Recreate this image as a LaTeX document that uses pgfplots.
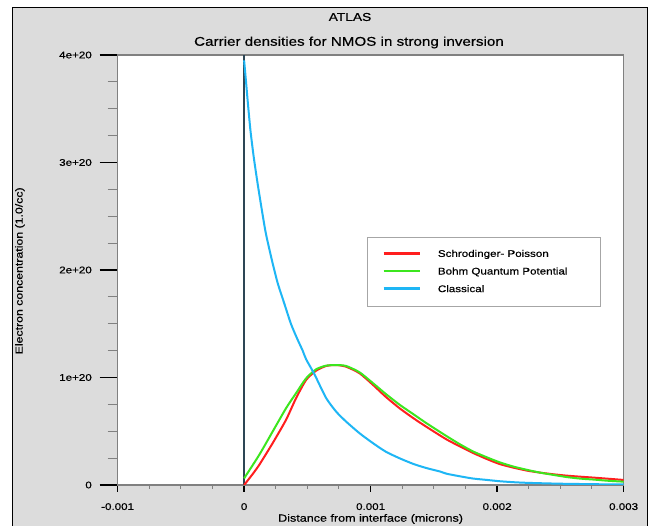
\documentclass[border=0pt]{standalone}
\usepackage{fontspec}
\setmainfont{Liberation Sans}[FakeStretch=1.2, FakeBold=0.5]
\usepackage{pgfplots}
\pgfplotsset{compat=1.18}
\definecolor{panel}{RGB}{220,220,220}
\definecolor{axgray}{RGB}{128,128,128}
\definecolor{cred}{RGB}{255,30,30}
\definecolor{cgreen}{RGB}{60,230,30}
\definecolor{cblue}{RGB}{30,182,245}
\definecolor{vline}{RGB}{45,70,85}
\newcommand\fs[1]{\fontsize{#1}{#1}\selectfont}
\begin{document}
\begin{tikzpicture}[x=1bp,y=1bp]
\useasboundingbox (0,0) rectangle (659,526);
\fill[white] (0,0) rectangle (659,526);
\fill[panel] (12,0) rectangle (647,518);
\draw[black, line width=1bp] (12,0) -- (12,518) -- (647,518) -- (647,0);
\node[font=\fs{11.5}] at (350,509) {ATLAS};
\node[font=\fs{12.7}] at (349,483.5) {Carrier densities for NMOS in strong inversion};

% y ticks axis
\begin{axis}[
  at={(117.6bp,41bp)}, anchor=south west, scale only axis,
  width=506bp, height=430bp,
  xmin=-0.001, xmax=0.003, ymin=0, ymax=4,
  scaled x ticks=false, scaled y ticks=false,
  axis x line=none, axis y line*=left,
  y axis line style={draw=axgray, line width=1.6bp},
  ytick={0,1,2,3,4},
  yticklabels={0,1e+20,2e+20,3e+20,4e+20},
  minor y tick num=3,
  tick align=outside,
  major tick length=18bp, minor tick length=10bp,
  major tick style={black, line width=1.4bp},
  minor tick style={axgray, line width=1bp},
  yticklabel style={font=\fs{9.7}, inner sep=0pt, anchor=east, xshift=-7.6bp},
  ylabel={Electron concentration (1.0/cc)},
  ylabel style={font=\fs{10.3}, at={(axis description cs:-0.193,0.498)}, anchor=center},
]
\end{axis}

\begin{axis}[
  at={(117.6bp,41bp)}, anchor=south west, scale only axis,
  width=506bp, height=430bp,
  xmin=-0.001, xmax=0.003, ymin=0, ymax=4,
  scaled x ticks=false, scaled y ticks=false,
  axis background/.style={fill=white},
  axis line style={draw=axgray, line width=1.6bp},
  xtick={-0.001,0,0.001,0.002,0.003},
  xticklabels={-0.001,0,0.001,0.002,0.003},
  minor x tick num=3,
  ytick=\empty,
  xtick pos=lower,
  tick align=outside,
  major tick length=7bp, minor tick length=4bp,
  major tick style={black, line width=1.4bp},
  minor tick style={axgray, line width=1bp},
  xticklabel style={font=\fs{9.7}, inner sep=0pt, anchor=north, yshift=-11bp},
  xlabel={Distance from interface (microns)},
  xlabel style={font=\fs{10.5}, at={(axis description cs:0.5,-0.079)}, anchor=center},
  legend cell align=left,
  legend image code/.code={\draw[#1, line width=2.5bp] (0bp,1bp) -- (36bp,1bp);},
  legend style={at={(axis description cs:0.4929,0.5767)}, anchor=north west,
    draw=gray!70, fill=white, line width=0.8bp,
    inner xsep=15bp, inner ysep=12.5bp, row sep=8.6bp, column sep=17bp,
    font=\fs{9.7},
    nodes={inner sep=0pt, text height=7bp, text depth=2bp}},
]
\addplot[vline, line width=2bp, forget plot] coordinates {(0,0) (0,4)};
\addplot[cred, line width=2bp, smooth, tension=0.4] coordinates {
(0,0.0) (0.00006,0.09) (0.000119,0.186) (0.000225,0.388) (0.000331,0.605)
(0.00041,0.806) (0.00049,0.977) (0.000569,1.063) (0.000648,1.107) (0.000728,1.116)
(0.000807,1.10) (0.000913,1.039) (0.00102,0.93) (0.00112,0.82) (0.00123,0.713)
(0.00134,0.62) (0.00144,0.542) (0.0016,0.424) (0.00171,0.357)
(0.00181,0.298) (0.00192,0.241) (0.00202,0.195) (0.00213,0.161) (0.00224,0.133)
(0.00234,0.115) (0.00245,0.099) (0.00255,0.087) (0.00266,0.077) (0.00277,0.068)
(0.00287,0.059) (0.003,0.047)};
\addlegendentry{\makebox[147bp][l]{Schrodinger- Poisson}}
\addplot[cgreen, line width=2bp, smooth, tension=0.4] coordinates {
(0,0.062) (0.000119,0.279) (0.000225,0.496) (0.000331,0.713) (0.00041,0.853)
(0.00049,0.992) (0.000569,1.076) (0.000648,1.11) (0.000728,1.116) (0.000807,1.107)
(0.000913,1.048) (0.00102,0.946) (0.00112,0.847) (0.00123,0.746) (0.00134,0.657)
(0.00144,0.576) (0.0016,0.455) (0.00171,0.376) (0.00181,0.312)
(0.00192,0.257) (0.00202,0.211) (0.00213,0.171) (0.00224,0.14) (0.00234,0.115)
(0.00245,0.093) (0.00255,0.074) (0.00266,0.059) (0.00277,0.05) (0.00287,0.04)
(0.003,0.031)};
\addlegendentry{\makebox[147bp][l]{Bohm Quantum Potential}}
\addplot[cblue, line width=2bp, smooth, tension=0.4] coordinates {
(0,3.95) (0.000013,3.78) (0.00003,3.55) (0.00005,3.3) (0.000075,3.06) (0.000106,2.81)
(0.00014,2.56) (0.000172,2.34) (0.00022,2.09) (0.000265,1.88) (0.00032,1.68)
(0.00037,1.5) (0.00042,1.36) (0.000463,1.25) (0.00049,1.17)
(0.000556,1.03) (0.000648,0.81) (0.000728,0.682) (0.000807,0.589) (0.000913,0.481)
(0.00102,0.388) (0.00112,0.31) (0.00123,0.248) (0.00134,0.195) (0.00144,0.158)
(0.00155,0.125) (0.0016,0.105) (0.00171,0.08) (0.00181,0.06) (0.00192,0.047)
(0.00202,0.035) (0.00213,0.026) (0.00224,0.02) (0.0025,0.012) (0.0028,0.007)
(0.003,0.005)};
\addlegendentry{\makebox[147bp][l]{Classical}}
\end{axis}
\end{tikzpicture}
\end{document}
